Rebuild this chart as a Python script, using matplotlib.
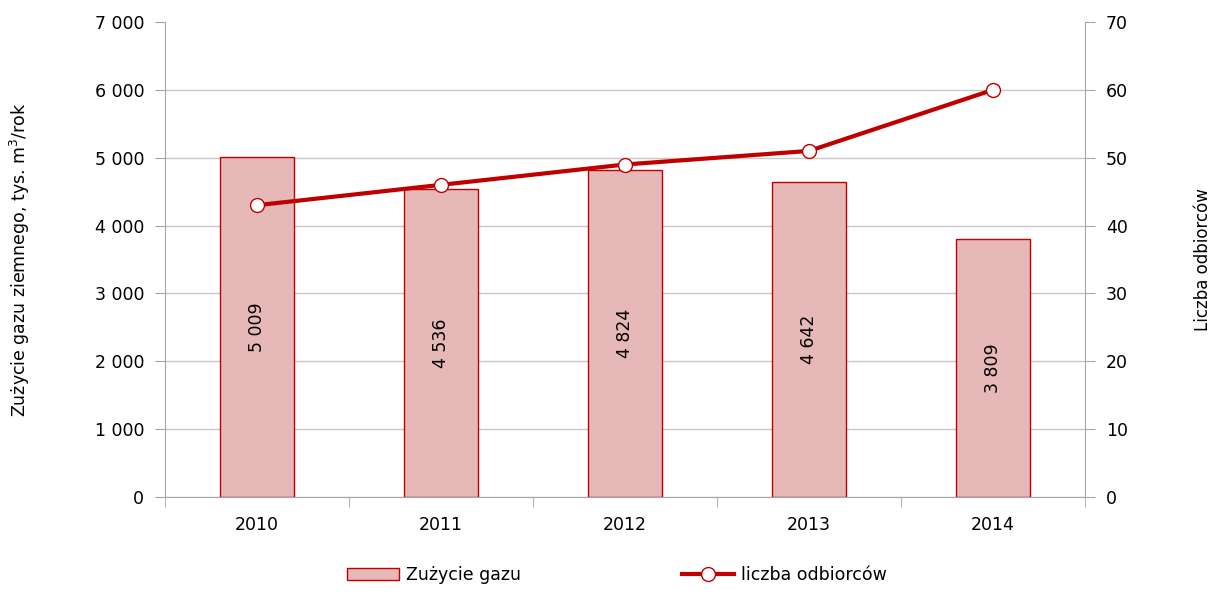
import matplotlib
matplotlib.use("Agg")
import matplotlib.pyplot as plt
import numpy as np
from matplotlib.ticker import FuncFormatter

# data
years = ["2010", "2011", "2012", "2013", "2014"]
gas_use = [5009, 4536, 4824, 4642, 3809]      # tys. m3/rok
customers = [43, 46, 49, 51, 60]              # liczba odbiorców

bar_fill = "#E6B8B8"
red = "#C00000"
grey = "#A6A6A6"

plt.rcParams["font.family"] = ["DejaVu Sans"]
plt.rcParams["font.size"] = 12.5

fig = plt.figure(figsize=(12.12, 5.94), dpi=100)
ax = fig.add_axes([165 / 1212, (594 - 497) / 594, 920 / 1212, 475 / 594])
ax2 = ax.twinx()

x = np.arange(len(years))
bars = ax.bar(x, gas_use, width=0.4, color=bar_fill, edgecolor=red,
              linewidth=1.0, label="Zużycie gazu", zorder=2)

# value labels, rotated, in the middle of each bar
def fmt(v):
    return f"{v:,}".replace(",", " ")

for xi, v in zip(x, gas_use):
    ax.text(xi, v / 2, fmt(v), rotation=90, ha="center", va="center",
            fontsize=12.5, zorder=3)

ax.set_xlim(-0.5, len(years) - 0.5)
ax.set_ylim(0, 7000)
ax.set_yticks(range(0, 7001, 1000))
ax.yaxis.set_major_formatter(FuncFormatter(lambda v, p: fmt(int(v))))
ax.grid(axis="y", color="#C8C8C8", linewidth=1.0, zorder=0)
ax.set_axisbelow(True)
# no gridline on the top edge
ax.yaxis.get_gridlines()[-1].set_visible(False)

ax.set_xticks(x)
ax.set_xticklabels(years)
ax.set_xticks(np.arange(-0.5, len(years)), minor=True)
ax.tick_params(axis="x", which="major", length=0, pad=14)
ax.tick_params(axis="x", which="minor", length=7, color=grey)
ax.tick_params(axis="y", length=7, color=grey, pad=8)

for s in ["top", "right"]:
    ax.spines[s].set_visible(False)
for s in ["left", "bottom"]:
    ax.spines[s].set_color(grey)

ax.set_ylabel("Zużycie gazu ziemnego, tys. m$^3$/rok", fontsize=12.5)
ax.yaxis.set_label_coords(-0.145, 0.5)

ax2.plot(x, customers, color=red, linewidth=3, marker="o", markersize=10,
         markerfacecolor="white", markeredgecolor=red, markeredgewidth=1.0,
         label="liczba odbiorców", zorder=4)
ax2.set_ylim(0, 70)
ax2.set_yticks(range(0, 71, 10))
ax2.tick_params(axis="y", length=7, color=grey, pad=8)
for s in ["top", "left", "bottom"]:
    ax2.spines[s].set_visible(False)
ax2.spines["right"].set_color(grey)
ax2.set_ylabel("Liczba odbiorców", fontsize=12)
ax2.yaxis.set_label_coords(1.118, 0.5)

h1, l1 = ax.get_legend_handles_labels()
h2, l2 = ax2.get_legend_handles_labels()
fig.legend(h1 + h2, l1 + l2, loc="lower center", ncol=2, frameon=False,
           bbox_to_anchor=(0.509, -0.01), columnspacing=9.3, handlelength=3.0,
           handletextpad=0.4, fontsize=12.5)

fig.savefig("out.png", dpi=100)
